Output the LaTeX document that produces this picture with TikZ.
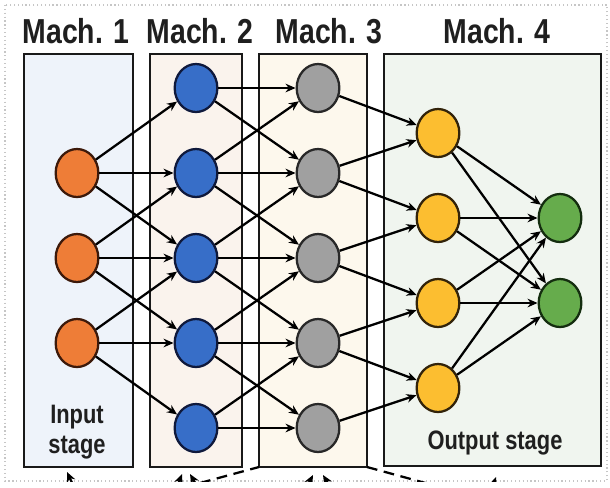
\documentclass[tikz,border=0pt]{standalone}
\usepackage{fontspec}
\newfontfamily\cond[FakeStretch=0.82]{Liberation Sans}
\usetikzlibrary{shapes.geometric,arrows.meta}
\definecolor{cOrange}{RGB}{238,125,55}
\definecolor{cBlue}{RGB}{55,110,200}
\definecolor{cGray}{RGB}{160,160,160}
\definecolor{cYellow}{RGB}{252,190,48}
\definecolor{cGreen}{RGB}{102,172,76}
\definecolor{fA}{RGB}{238,243,250}
\definecolor{fB}{RGB}{250,243,237}
\definecolor{fC}{RGB}{253,248,237}
\definecolor{fD}{RGB}{240,245,239}
\tikzset{
  neuron/.style={ellipse, line width=1.7pt, minimum width=32pt, minimum height=36pt, inner sep=0pt},
  nOr/.style={neuron, fill=cOrange, draw={rgb,255:red,60;green,25;blue,10}},
  nBl/.style={neuron, fill=cBlue, draw={rgb,255:red,15;green,25;blue,60}},
  nGr/.style={neuron, fill=cGray, draw={rgb,255:red,40;green,40;blue,40}},
  nYe/.style={neuron, fill=cYellow, draw={rgb,255:red,50;green,35;blue,10}},
  nGn/.style={neuron, fill=cGreen, draw={rgb,255:red,20;green,45;blue,15}},
  machbox/.style={draw=black!90, line width=2pt},
  mtitle/.style={font=\cond\bfseries\fontsize{26}{28}\selectfont, text=black!88, anchor=base, inner sep=0pt},
  stagelbl/.style={font=\cond\bfseries\fontsize{20}{22.5}\selectfont, text=black!88, align=center, inner sep=0pt},
  arr/.style={-{Stealth[length=7.5pt,width=6.5pt]}, line width=1.7pt, black},
  dsh/.style={dashed, dash pattern=on 8pt off 5pt, line width=1.7pt, black},
}
\begin{document}
\begin{tikzpicture}[x=0.75pt,y=-0.75pt]
\useasboundingbox (0,0) rectangle (610,487);
\fill[white] (0,0) rectangle (610,487);
\draw[gray!45, dotted, line width=0.9pt] (5,5) rectangle (607,481);

% boxes
\draw[machbox, fill=fA] (24,54) rectangle (133,467);
\draw[machbox, fill=fB] (150,54) rectangle (242,467);
\draw[machbox, fill=fC] (259,54) rectangle (367,467);
\draw[machbox, fill=fD] (384,54) rectangle (601,466);
\coordinate (m3bl) at (259,467);
\coordinate (m3br) at (367,467);

% titles
\node[mtitle] (t1) at (76,43) {Mach. 1};
\node[mtitle] (t2) at (200,43) {Mach. 2};
\node[mtitle] (t3) at (329,43) {Mach. 3};
\node[mtitle] (t4) at (497,43) {Mach. 4};

% stage labels
\node[stagelbl, anchor=base] (in1) at (77,423) {Input};
\node[stagelbl, anchor=base] (in2) at (77,453) {stage};
\node[stagelbl, anchor=base] (out) at (495,449) {Output stage};

% neurons
\foreach \i/\y in {0/173,1/258,2/343} \node[nOr] (o\i) at (77,\y) {};
\foreach \i/\y in {0/88,1/173,2/258,3/343,4/428} {
  \node[nBl] (b\i) at (196,\y) {};
  \node[nGr] (g\i) at (318,\y) {};
}
\foreach \i/\y in {0/133,1/218,2/303,3/388} \node[nYe] (y\i) at (438,\y) {};
\node[nGn] (z0) at (560,218) {};
\node[nGn] (z1) at (560,303) {};

% input -> mach2
\foreach \i in {0,1,2} {
  \pgfmathtruncatemacro{\a}{\i}
  \pgfmathtruncatemacro{\b}{\i+1}
  \pgfmathtruncatemacro{\c}{\i+2}
  \draw[arr] (o\i) -- (b\a);
  \draw[arr] (o\i) -- (b\b);
  \draw[arr] (o\i) -- (b\c);
}
% mach2 -> mach3
\foreach \i in {0,...,4} {
  \draw[arr] (b\i) -- (g\i);
}
\foreach \i/\j in {0/1,1/2,2/3,3/4} {
  \draw[arr] (b\i) -- (g\j);
  \draw[arr] (b\j) -- (g\i);
}
% mach3 -> yellow
\draw[arr] (g0) -- (y0);
\draw[arr] (g1) -- (y0);
\draw[arr] (g1) -- (y1);
\draw[arr] (g2) -- (y1);
\draw[arr] (g2) -- (y2);
\draw[arr] (g3) -- (y2);
\draw[arr] (g3) -- (y3);
\draw[arr] (g4) -- (y3);
% yellow -> green
\foreach \i in {0,...,3} {
  \draw[arr] (y\i) -- (z0);
  \draw[arr] (y\i) -- (z1);
}

% cut-off connectors at the bottom
\begin{scope}
\clip (0,0) rectangle (610,481);
\coordinate (p1) at (80,500);
\coordinate (q1) at (67,472);
\draw[arr] (p1) -- (q1);
\coordinate (p2) at (172,500);
\coordinate (q2) at (182,474);
\draw[arr] (p2) -- (q2);
\coordinate (p3) at (205,500);
\coordinate (q3) at (190,474);
\draw[arr] (p3) -- (q3);
\coordinate (p4) at (300,500);
\coordinate (q4) at (313,475);
\draw[arr] (p4) -- (q4);
\coordinate (p5) at (338,500);
\coordinate (q5) at (323,475);
\draw[arr] (p5) -- (q5);
\coordinate (p6) at (488,500);
\coordinate (q6) at (496,477);
\draw[arr] (p6) -- (q6);
\coordinate (d1) at (200,483);
\draw[dsh] (d1) -- (m3bl);
\coordinate (d2) at (440,487);
\draw[dsh] (m3br) -- (d2);
\end{scope}
\end{tikzpicture}
\end{document}
